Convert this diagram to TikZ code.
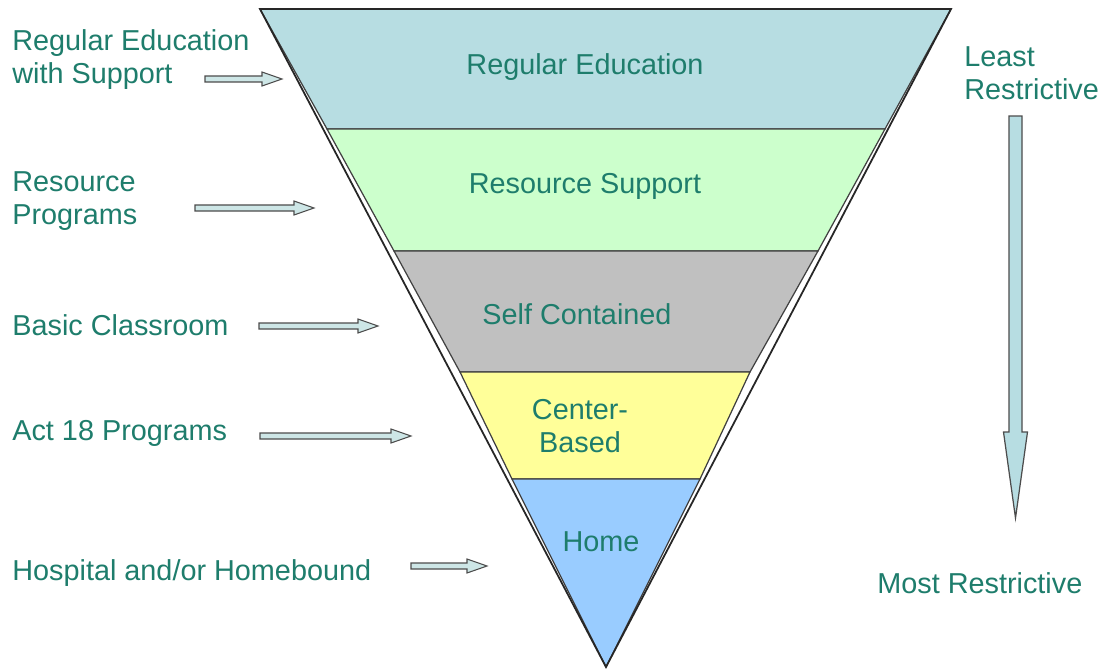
\documentclass[tikz,border=0pt]{standalone}
\usepackage{fontspec}
\setmainfont{Liberation Sans}
\usetikzlibrary{positioning}
\definecolor{txtteal}{RGB}{30,125,108}
\definecolor{regblue}{RGB}{183,221,226}
\definecolor{resgreen}{RGB}{204,255,204}
\definecolor{selfgray}{RGB}{192,192,192}
\definecolor{centeryellow}{RGB}{255,255,153}
\definecolor{homeblue}{RGB}{153,204,255}
\definecolor{arrowfill}{RGB}{205,230,230}

\tikzset{
  lbl/.style={font=\fontsize{16.4}{18.8}\selectfont, text=txtteal, inner sep=0pt},
  band/.style={draw=black!75, line width=0.7pt},
  pics/blockarrow/.style={code={
    \draw[draw=black!70, fill=arrowfill, line width=0.6pt]
      (0,-0.06) -- ({#1-0.4},-0.06) -- ({#1-0.4},-0.14) -- (#1,0)
      -- ({#1-0.4},0.14) -- ({#1-0.4},0.06) -- (0,0.06) -- cycle;
  }}
}

\begin{document}
\begin{tikzpicture}
  \useasboundingbox[fill=white] (0,0) rectangle (22.22,13.38);
  % Faixas do funil
  \filldraw[band, fill=regblue] (5.20,13.20) -- (19.02,13.20) -- (17.70,10.80) -- (6.54,10.80) -- cycle;
  \filldraw[band, fill=resgreen] (6.54,10.80) -- (17.70,10.80) -- (16.36,8.36) -- (7.88,8.36) -- cycle;
  \filldraw[band, fill=selfgray] (7.88,8.36) -- (16.36,8.36) -- (15.00,5.94) -- (9.20,5.94) -- cycle;
  \filldraw[band, fill=centeryellow] (9.20,5.94) -- (15.00,5.94) -- (14.00,3.80) -- (10.24,3.80) -- cycle;
  \filldraw[band, fill=homeblue] (10.24,3.80) -- (14.00,3.80) -- (12.12,0.04) -- cycle;
  % Contorno externo
  \draw[line width=1pt, black!85] (5.20,13.20) -- (19.02,13.20) -- (12.12,0.04) -- cycle;

  % Rotulos das faixas
  \node[lbl] (edu) at (11.70,12.04) {Regular Education};
  \node[lbl] (res) at (11.70,9.66) {Resource Support};
  \node[lbl] (self) at (11.54,7.10) {Self Contained};
  \node[lbl, align=center] (cent) at (11.60,4.86) {Center-\\Based};
  \node[lbl] (home) at (12.02,2.54) {Home};

  % Rotulos a esquerda
  \node[lbl, anchor=west, align=left] (edusup) at (0.24,12.19) {Regular Education\\with Support};
  \node[lbl, anchor=west, align=left] (resprog) at (0.24,9.35) {Resource\\Programs};
  \node[lbl, anchor=west] (basic) at (0.24,6.88) {Basic Classroom};
  \node[lbl, anchor=west] (act) at (0.24,4.72) {Act 18 Programs};
  \node[lbl, anchor=west] (hosp) at (0.24,1.92) {Hospital and/or Homebound};

  % Setas pequenas
  \pic (a1) at (4.10,11.80) {blockarrow=1.54};
  \pic (a2) at (3.90,9.22) {blockarrow=2.38};
  \pic (a3) at (5.18,6.86) {blockarrow=2.38};
  \pic (a4) at (5.20,4.66) {blockarrow=3.02};
  \pic (a5) at (8.22,2.06) {blockarrow=1.52};

  % Escala de restricao
  \node[lbl, anchor=west, align=left] (least) at (19.28,11.92) {Least\\Restrictive};
  \node[lbl, anchor=west] (most) at (17.54,1.72) {Most Restrictive};
  \draw[draw=black!70, fill=regblue, line width=0.7pt]
    (20.18,11.06) -- (20.18,4.74) -- (20.07,4.74) -- (20.31,3.02)
    -- (20.55,4.74) -- (20.44,4.74) -- (20.44,11.06) -- cycle;
\end{tikzpicture}
\end{document}
